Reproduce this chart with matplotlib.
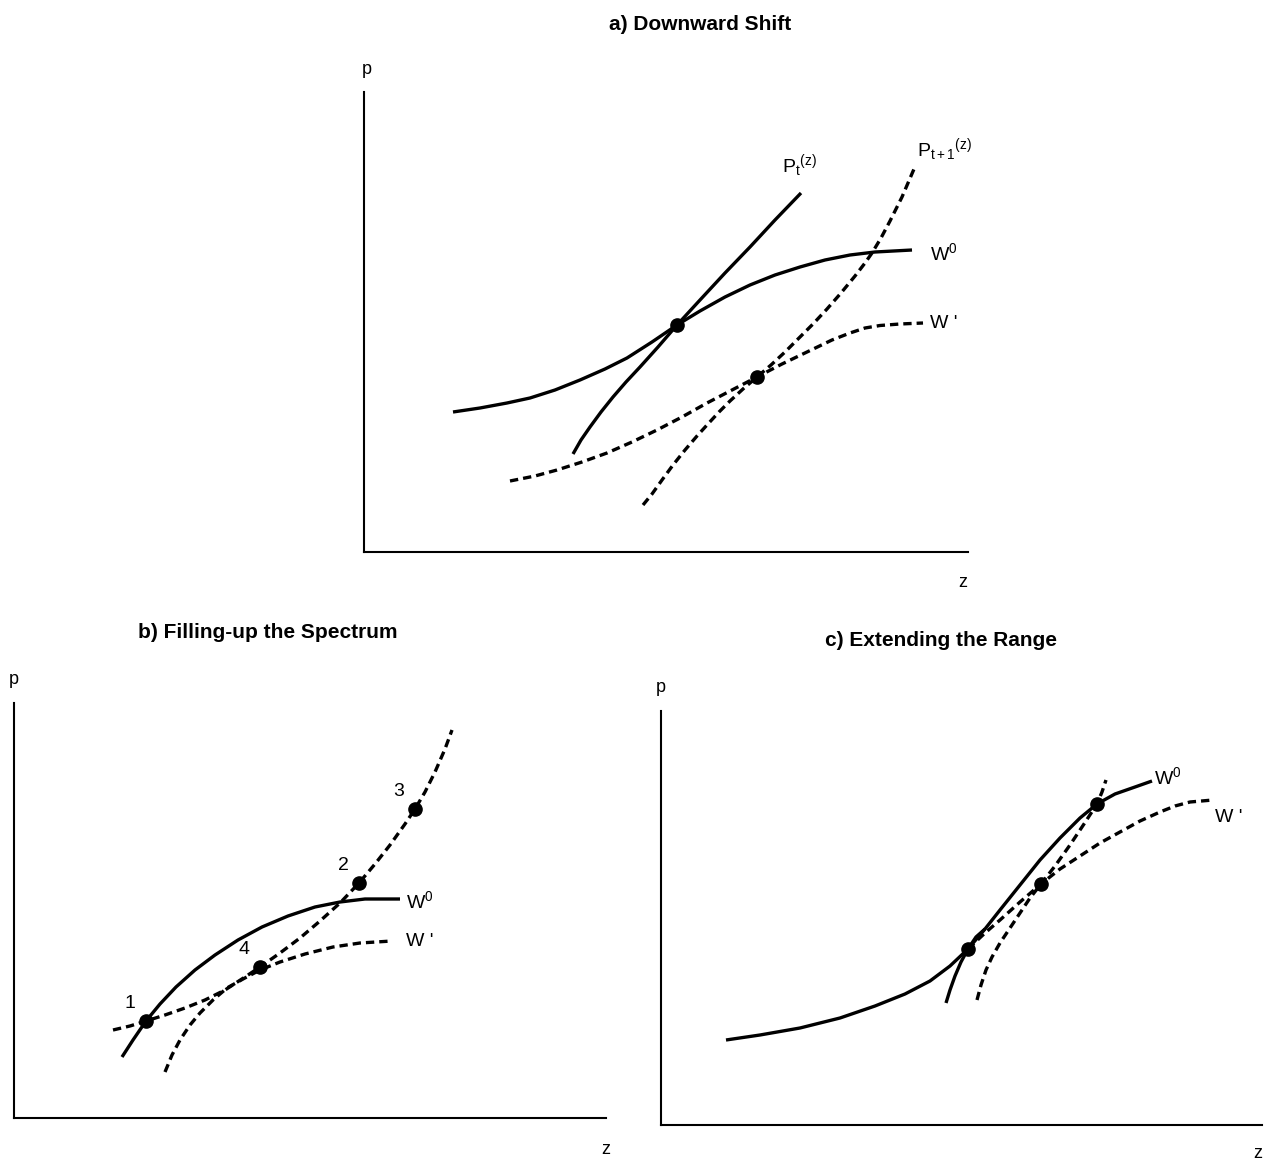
import matplotlib
matplotlib.use('Agg')
import matplotlib.pyplot as plt

plt.rcParams['font.family'] = ['Liberation Sans', 'DejaVu Sans']
plt.rcParams['mathtext.fontset'] = 'custom'
plt.rcParams['mathtext.rm'] = 'Liberation Sans'
plt.rcParams['mathtext.it'] = 'Liberation Sans'

# ---- panel a) Downward Shift  (z, p in chart units)
a_w0_z = [89, 116, 143, 166, 191, 216, 241, 263, 288, 313, 336, 361, 386, 411, 436, 461, 486, 511, 548]
a_w0_p = [140, 144, 149, 154, 162, 172, 183, 194, 210, 227, 241, 255, 267, 277, 285, 292, 297, 300, 302]
a_pt_z = [209, 217, 226, 237, 249, 262, 276, 294, 313, 336, 361, 386, 411, 437]
a_pt_p = [98, 112, 125, 140, 155, 170, 185, 205, 227, 252, 279, 305, 332, 359]
a_pt1_z = [279, 288, 298, 309, 321, 333, 343, 355, 366, 379, 393, 407, 421, 435, 449, 463,
           477, 491, 501, 508, 517, 526, 538, 550]
a_pt1_p = [47, 58, 72, 87, 102, 116, 127, 140, 151, 163, 175, 187, 200, 214, 228, 243,
           259, 276, 289, 299, 314, 331, 355, 383]
a_w1_z = [146, 171, 193, 218, 243, 268, 293, 318, 343, 368, 393, 418, 443, 468, 486, 501, 516, 536, 559]
a_w1_p = [71, 76, 82, 90, 99, 110, 122, 135, 149, 162, 175, 188, 200, 212, 219, 224, 226.5, 228, 229]
a_dots_z = [313, 393]
a_dots_p = [227, 175]

# ---- panel b) Filling-up the Spectrum
b_w0_z = [108, 119, 132, 146, 162, 181, 201, 224, 248, 274, 301, 326, 351, 386]
b_w0_p = [61, 78, 97, 114, 131, 148, 163, 178, 191, 202, 211, 216, 219, 219]
b_w1_z = [151, 158, 166, 176, 186, 199, 213, 229, 246, 266, 291, 319, 346, 378]
b_w1_p = [46, 63, 78, 93, 105, 118, 130, 139, 148, 156, 164, 171, 175, 177]
b_p_z = [99, 116, 132, 151, 171, 191, 211, 231, 246, 266, 286, 306, 326, 345, 361,
         376, 391, 401, 411, 421, 431, 438]
b_p_p = [88, 92, 97, 103, 110, 118, 128, 141, 151, 165, 180, 197, 215, 235, 254,
         273, 294, 309, 326, 346, 369, 388]
b_dots_z = [132, 246, 345, 401]
b_dots_p = [97, 151, 235, 309]
b_dot_labels = ['1', '4', '2', '3']

# ---- panel c) Extending the Range
c_w0_z = [65, 99, 139, 179, 214, 244, 269, 289, 307, 324, 339, 359, 379, 399, 419, 436, 454, 474, 491]
c_w0_p = [85, 90, 97, 107, 119, 131, 144, 159, 176, 196, 215, 240, 265, 287, 307, 321, 331, 338, 344]
c_pt_z = [285, 289, 294, 300, 307, 315, 324]
c_pt_p = [122, 135, 149, 163, 176, 188, 196]
c_w1_z = [307, 324, 339, 359, 380, 399, 419, 439, 459, 479, 499, 514, 529, 552]
c_w1_p = [176, 192, 205, 223, 241, 256, 269, 282, 293, 304, 313, 319, 323, 325]
c_pt1_z = [316, 320, 325, 331, 339, 349, 359, 369, 380, 394, 409, 423, 436, 441, 445]
c_pt1_p = [125, 140, 155, 168, 182, 197, 212, 227, 241, 259, 280, 301, 321, 333, 345]
c_dots_z = [307, 380, 436]
c_dots_p = [176, 241, 321]

W, H = 1264, 1159
fig = plt.figure(figsize=(W / 100, H / 100), dpi=100)

LW = 2.4
DASH = (0, (2.5, 1.5))


def make_axes(x0, y0, width, height):
    # x0, y0 = origin of the axes in picture pixels
    ax = fig.add_axes([x0 / W, 1 - y0 / H, width / W, height / H])
    ax.set_xlim(0, width)
    ax.set_ylim(0, height)
    for s in ['top', 'right']:
        ax.spines[s].set_visible(False)
    for s in ['left', 'bottom']:
        ax.spines[s].set_linewidth(1.5)
    ax.set_xticks([])
    ax.set_yticks([])
    ax.patch.set_alpha(0)
    return ax


def solid(ax, z, p):
    ax.plot(z, p, color='black', lw=LW, solid_capstyle='butt',
            solid_joinstyle='round', clip_on=False)


def dashed(ax, z, p):
    ax.plot(z, p, color='black', lw=LW, linestyle=DASH, dash_capstyle='butt',
            clip_on=False)


def dots(ax, z, p):
    ax.plot(z, p, 'o', color='black', ms=9.5, clip_on=False)


lab = dict(fontsize=14, color='black', va='center', ha='left')
axlab = dict(fontsize=13, ha='center', va='center')

# panel a
ax = make_axes(364, 552, 604, 460)
solid(ax, a_w0_z, a_w0_p)
solid(ax, a_pt_z, a_pt_p)
dashed(ax, a_pt1_z, a_pt1_p)
dashed(ax, a_w1_z, a_w1_p)
dots(ax, a_dots_z, a_dots_p)
ax.text(3, 482, 'p', **axlab)
ax.text(599, -31, 'z', **axlab)
ax.text(418, 386, r'P$_{\rm t}$$^{\rm (z)}$', **lab)
ax.text(553, 402, r'P$_{\rm t+1}$$^{\rm (z)}$', **lab)
ax.text(566, 299, r'W$^{\rm 0}$', **lab)
ax.text(566, 229, "W '", **lab)

# panel b
ax = make_axes(14, 1118, 592, 415)
solid(ax, b_w0_z, b_w0_p)
dashed(ax, b_w1_z, b_w1_p)
dashed(ax, b_p_z, b_p_p)
dots(ax, b_dots_z, b_dots_p)
for z, p, t in zip(b_dots_z, b_dots_p, b_dot_labels):
    ax.text(z - 16, p + 17, t, fontsize=14, ha='center', va='center')
ax.text(0, 439, 'p', **axlab)
ax.text(592, -32, 'z', **axlab)
ax.text(392, 217, r'W$^{\rm 0}$', **lab)
ax.text(392, 176, "W '", **lab)

# panel c
ax = make_axes(661, 1125, 601, 414)
solid(ax, c_w0_z, c_w0_p)
solid(ax, c_pt_z, c_pt_p)
dashed(ax, c_w1_z, c_w1_p)
dashed(ax, c_pt1_z, c_pt1_p)
dots(ax, c_dots_z, c_dots_p)
ax.text(0, 437, 'p', **axlab)
ax.text(597, -28, 'z', **axlab)
ax.text(493, 348, r'W$^{\rm 0}$', **lab)
ax.text(554, 307, "W '", **lab)

# titles
fig.text(700 / W, 1 - 24 / H, 'a) Downward Shift', fontsize=15, fontweight='bold',
         ha='center', va='center')
fig.text(268 / W, 1 - 633 / H, 'b) Filling-up the Spectrum', fontsize=15,
         fontweight='bold', ha='center', va='center')
fig.text(941 / W, 1 - 641 / H, 'c) Extending the Range', fontsize=15,
         fontweight='bold', ha='center', va='center')

fig.savefig('out.png', dpi=100)
